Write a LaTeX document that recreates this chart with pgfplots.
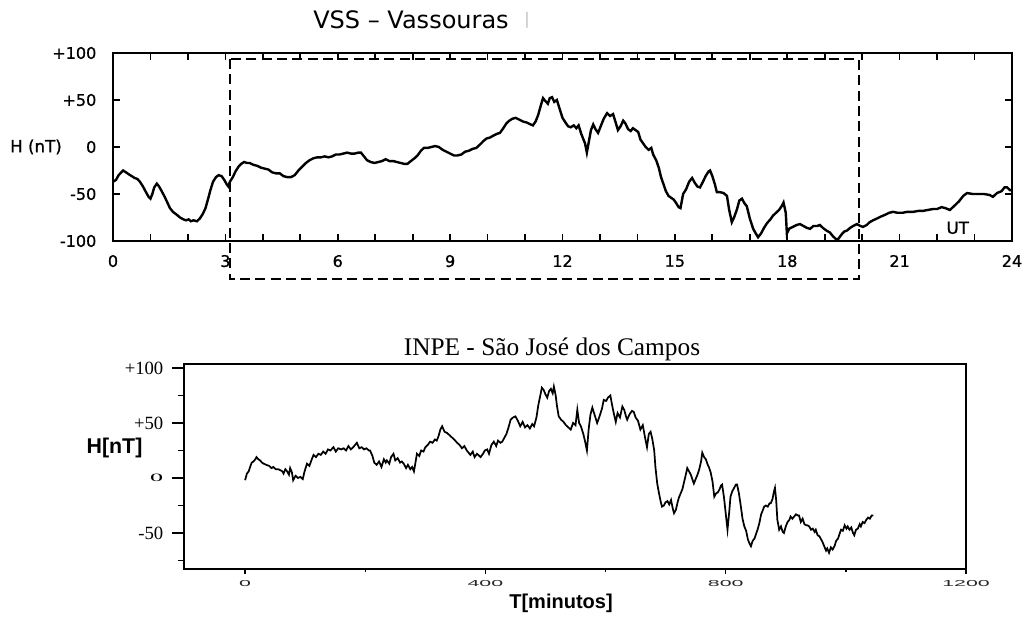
\documentclass[border=0pt]{standalone}
\usepackage{pgfplots}
\pgfplotsset{compat=1.18}
\usepackage{fontspec}
\usepackage{graphicx}
\newfontfamily\dv{DejaVu Sans}
\newfontfamily\dvb[FakeBold=1.0]{DejaVu Sans}
\newfontfamily\lsans{Liberation Sans}
\newfontfamily\lserif{Liberation Serif}
\begin{document}
\begin{tikzpicture}
\useasboundingbox (0,0) rectangle (768.75pt,462.75pt);
% ---------------- top axis ----------------
\begin{axis}[
  at={(84.75pt,282pt)}, anchor=south west,
  scale only axis, width=674.25pt, height=141pt,
  xmin=0, xmax=24, ymin=-100, ymax=100,
  clip=false,
  axis line style={line width=1.6pt},
  tick align=inside, tick pos=both,
  major tick length=5pt, minor tick length=5pt,
  every tick/.style={black, line width=1.3pt},
  xtick={0,3,6,9,12,15,18,21,24},
  xticklabels={0,3,6,9,12,15,18,21,24},
  minor xtick={1,2,4,5,7,8,10,11,13,14,16,17,19,20,22,23},
  ytick={-100,-50,0,50,100},
  yticklabels={-100,-50,0,+50,+100},
  ticklabel style={font=\dvb\fontsize{12}{14}\selectfont},
  xticklabel style={yshift=-7pt},
  yticklabel style={xshift=-9pt},
]
\addplot[black, line width=1.8pt] coordinates {
(0.00,-37) (0.08,-35) (0.15,-30) (0.22,-27) (0.27,-25) (0.35,-27) (0.42,-29) (0.50,-31)
(0.58,-33) (0.65,-34) (0.72,-37) (0.80,-42) (0.88,-48) (0.95,-53) (1.00,-55) (1.05,-50)
(1.10,-43) (1.17,-39) (1.23,-42) (1.30,-47) (1.38,-53) (1.45,-59) (1.52,-65) (1.60,-69)
(1.70,-72) (1.79,-75) (1.88,-77) (1.95,-78) (2.02,-77) (2.08,-79) (2.15,-78) (2.24,-79)
(2.32,-76) (2.40,-71) (2.47,-65) (2.54,-55) (2.60,-46) (2.67,-37) (2.75,-32) (2.82,-30)
(2.90,-31) (2.97,-35) (3.04,-40) (3.08,-42) (3.12,-37) (3.20,-32) (3.27,-26) (3.35,-21)
(3.42,-18) (3.50,-16) (3.58,-17) (3.65,-17) (3.75,-19) (3.85,-20) (3.95,-22) (4.05,-23)
(4.15,-24) (4.25,-27) (4.35,-28) (4.45,-28) (4.55,-31) (4.65,-32) (4.75,-32) (4.85,-30)
(4.95,-25) (5.05,-21) (5.15,-17) (5.25,-14) (5.35,-12) (5.45,-11) (5.55,-11) (5.65,-10)
(5.75,-11) (5.85,-10) (5.95,-8) (6.05,-8) (6.15,-7) (6.25,-6) (6.35,-7) (6.45,-7)
(6.55,-6) (6.62,-6) (6.70,-10) (6.78,-14) (6.88,-16) (6.98,-17) (7.08,-16) (7.18,-15)
(7.28,-13) (7.38,-15) (7.48,-15) (7.58,-16) (7.68,-17) (7.78,-18) (7.86,-18) (7.95,-15)
(8.05,-12) (8.13,-9) (8.22,-4) (8.30,-1) (8.40,-1) (8.50,0) (8.60,1) (8.70,0)
(8.80,-3) (8.90,-5) (9.00,-7) (9.10,-9) (9.20,-9) (9.30,-8) (9.40,-5) (9.50,-4)
(9.60,-2) (9.70,-1) (9.78,2) (9.88,6) (9.97,9) (10.06,10) (10.15,12) (10.25,14)
(10.33,15) (10.42,20) (10.50,25) (10.58,28) (10.66,30) (10.75,31) (10.85,29) (10.95,27)
(11.05,26) (11.15,24) (11.21,23) (11.28,27) (11.35,34) (11.42,44) (11.48,52) (11.54,49)
(11.61,46) (11.66,52) (11.72,53) (11.78,48) (11.85,50) (11.92,41) (12.00,31) (12.08,26)
(12.15,22) (12.22,21) (12.30,23) (12.37,20) (12.43,23) (12.50,14) (12.55,9) (12.60,4)
(12.65,-6) (12.70,5) (12.76,18) (12.82,24) (12.88,19) (12.95,15) (13.02,22) (13.10,30)
(13.19,36) (13.27,33) (13.35,35) (13.42,26) (13.48,18) (13.55,22) (13.62,28) (13.68,25)
(13.75,19) (13.82,17) (13.88,20) (13.95,18) (14.02,16) (14.08,8) (14.15,4) (14.22,0)
(14.30,-3) (14.37,-1) (14.42,-8) (14.50,-14) (14.57,-22) (14.63,-32) (14.70,-40) (14.76,-47)
(14.83,-52) (14.90,-54) (14.97,-56) (15.04,-60) (15.10,-64) (15.15,-65) (15.22,-50) (15.30,-45)
(15.38,-37) (15.46,-33) (15.53,-38) (15.60,-42) (15.67,-43) (15.75,-37) (15.82,-31) (15.90,-26)
(15.94,-25) (16.00,-31) (16.07,-40) (16.12,-48) (16.20,-48) (16.30,-49) (16.39,-52) (16.45,-67)
(16.52,-80) (16.58,-75) (16.66,-66) (16.72,-57) (16.79,-55) (16.86,-60) (16.92,-63) (17.00,-76)
(17.09,-87) (17.16,-92) (17.22,-96) (17.30,-92) (17.38,-86) (17.46,-81) (17.55,-77) (17.62,-73)
(17.70,-70) (17.78,-67) (17.85,-63) (17.90,-59) (17.96,-70) (17.99,-92) (18.05,-87) (18.15,-85)
(18.25,-83) (18.34,-82) (18.43,-84) (18.52,-86) (18.61,-87) (18.70,-84) (18.80,-84) (18.87,-83)
(18.95,-86) (19.05,-89) (19.14,-91) (19.22,-95) (19.30,-98) (19.36,-98) (19.45,-93) (19.52,-90)
(19.59,-89) (19.68,-86) (19.76,-84) (19.86,-82) (19.95,-84) (20.02,-85) (20.12,-83) (20.20,-80)
(20.29,-78) (20.40,-76) (20.50,-74) (20.62,-72) (20.72,-70) (20.82,-69) (20.95,-70) (21.08,-70)
(21.20,-69) (21.36,-69) (21.50,-68) (21.62,-68) (21.75,-67) (21.89,-66) (22.00,-66) (22.12,-64)
(22.22,-65) (22.34,-67) (22.45,-63) (22.58,-58) (22.70,-52) (22.80,-49) (22.95,-50) (23.10,-50)
(23.25,-50) (23.40,-51) (23.49,-53) (23.60,-49) (23.72,-47) (23.80,-43) (23.87,-43) (23.95,-46)
(24.00,-46)
};
\draw[black, line width=1.1pt, dash pattern=on 7.5pt off 4pt] (axis cs:3.12,93.6) rectangle (axis cs:19.91,-140.4);
\node[font=\dvb\fontsize{12.5}{14}\selectfont] at (axis cs:22.55,-86) {UT};
\end{axis}
\node[font=\dv\fontsize{18}{20}\selectfont] at (308.25pt,447.75pt) {VSS – Vassouras};
\node[font=\dv\fontsize{12}{14}\selectfont, text=black!25] at (395.25pt,447.75pt) {|};
\node[font=\dvb\fontsize{12.5}{14}\selectfont] at (27pt,352.5pt) {H (nT)};
% ---------------- bottom axis ----------------
\begin{axis}[
  at={(138pt,36pt)}, anchor=south west,
  scale only axis, width=586.5pt, height=153.75pt,
  xmin=-101.7, xmax=1200, ymin=-82.7, ymax=103.6,
  clip=false,
  axis line style={line width=1pt},
  tick align=outside, tick pos=left,
  every tick/.style={black, line width=1pt},
  xtick={0,400,800,1200},
  xticklabels={\scalebox{1.6}[0.65]{0},\scalebox{1.6}[0.65]{400},\scalebox{1.6}[0.65]{800},\scalebox{1.6}[0.65]{1200}},
  xtick style={draw=none},
  ytick={-50,0,50,100},
  yticklabels={-50,\scalebox{1.4}[0.6]{0},+50,+100},
  minor ytick={-75,-25,25,75},
  major tick length=9pt, minor tick length=4.5pt,
  xticklabel style={font=\lsans\fontsize{10}{12}\selectfont, text=black!85, yshift=4pt},
  yticklabel style={font=\lserif\fontsize{14}{16}\selectfont, xshift=-3pt},
]
\addplot[black, line width=1.3pt] coordinates {
(0,-2) (3,4) (6,6) (9,11) (11,14) (14,15) (17,17) (19,19) (22,17) (25,16) (28,14) (31,13)
(35,12) (40,11) (44,9) (47,10) (51,8) (55,8) (59,7) (62,6) (64,4) (67,8) (70,6) (73,3)
(75,9) (78,5) (80,-2) (84,2) (88,0) (92,1) (96,-1) (99,6) (103,13) (107,11) (111,17) (114,21)
(118,19) (122,22) (126,21) (130,24) (134,22) (138,26) (142,25) (147,28) (151,24) (155,27) (160,26) (164,27)
(168,25) (172,29) (176,26) (180,28) (183,30) (186,32) (190,27) (194,28) (198,26) (202,27) (206,25) (208,25)
(212,20) (215,14) (219,12) (223,15) (227,10) (231,17) (234,14) (236,16) (240,13) (243,19) (247,22) (250,16)
(254,18) (258,14) (261,15) (264,13) (268,9) (271,12) (275,8) (278,10) (281,6) (283,12) (286,22) (290,20)
(293,25) (297,24) (300,28) (304,30) (308,33) (312,32) (316,35) (319,34) (322,38) (325,44) (328,47) (332,42)
(336,41) (340,39) (344,37) (348,35) (353,32) (357,30) (361,27) (365,29) (369,25) (372,23) (375,21) (379,24)
(382,19) (386,22) (390,20) (392,19) (396,22) (399,25) (403,26) (406,22) (410,30) (414,33) (418,29) (421,34)
(425,32) (428,33) (431,36) (435,40) (438,45) (442,53) (446,55) (450,56) (454,52) (458,47) (462,51) (466,46)
(470,48) (474,45) (478,49) (481,47) (485,55) (488,66) (491,74) (494,82) (497,80) (500,76) (503,73) (506,79)
(509,81) (512,77) (514,83) (517,75) (519,66) (522,56) (526,53) (530,51) (534,48) (538,46) (542,44) (546,50)
(550,48) (553,62) (556,50) (559,47) (563,40) (566,33) (569,25) (572,45) (575,58) (578,64) (582,57) (586,50)
(590,56) (594,63) (597,71) (601,70) (604,73) (608,75) (611,66) (614,58) (617,51) (620,59) (624,55) (628,65)
(631,62) (634,56) (636,53) (640,58) (644,61) (647,60) (650,55) (654,52) (658,44) (662,48) (666,36) (669,28)
(672,40) (675,42) (678,35) (681,25) (683,10) (686,-5) (689,-14) (692,-22) (694,-26) (697,-25) (700,-22) (703,-21)
(706,-24) (709,-20) (712,-28) (714,-32) (717,-29) (720,-22) (722,-18) (725,-14) (728,-10) (731,-3) (734,4) (736,9)
(739,6) (742,3) (745,-2) (747,-5) (750,-1) (753,3) (756,8) (759,15) (761,23) (764,19) (767,17) (770,12)
(772,10) (775,5) (778,-3) (781,-17) (784,-14) (787,-13) (790,-10) (792,-7) (794,-6) (797,-17) (800,-32) (803,-47)
(806,-30) (808,-17) (811,-12) (814,-9) (817,-6) (819,-6) (822,-14) (825,-25) (828,-37) (831,-44) (834,-48) (837,-56)
(840,-60) (842,-62) (845,-57) (848,-55) (851,-50) (853,-47) (856,-41) (859,-33) (862,-29) (864,-26) (867,-25) (870,-26)
(873,-23) (875,-23) (878,-19) (880,-13) (882,-9) (884,-20) (886,-38) (889,-47) (892,-44) (895,-49) (897,-50) (900,-44)
(903,-40) (906,-38) (908,-35) (911,-37) (914,-35) (917,-33) (920,-34) (922,-34) (925,-40) (928,-37) (931,-42) (934,-43)
(936,-43) (939,-44) (942,-47) (945,-46) (948,-49) (950,-47) (953,-52) (956,-53) (958,-55) (961,-58) (964,-62) (967,-66)
(969,-64) (972,-68) (975,-63) (978,-65) (981,-62) (984,-57) (987,-55) (990,-50) (992,-47) (995,-48) (998,-43) (1001,-46)
(1003,-44) (1006,-47) (1009,-45) (1012,-50) (1014,-52) (1017,-47) (1020,-46) (1023,-42) (1025,-44) (1028,-40) (1031,-41) (1034,-38)
(1037,-36) (1040,-37) (1043,-34) (1046,-34)
};
\draw[black, line width=1pt] (axis cs:0,-82.7) -- ++(0pt,-4pt);
\draw[black, line width=1pt] (axis cs:400,-82.7) -- ++(0pt,-4pt);
\draw[black, line width=1pt] (axis cs:800,-82.7) -- ++(0pt,-4pt);
\draw[black, line width=1pt] (axis cs:1200,-82.7) -- ++(0pt,-4pt);
\draw[black, line width=1pt] (axis cs:200,-82.7) -- ++(0pt,-2pt);
\draw[black, line width=1pt] (axis cs:600,-82.7) -- ++(0pt,-2pt);
\draw[black, line width=1pt] (axis cs:1000,-82.7) -- ++(0pt,-2pt);
\end{axis}
\node[font=\lserif\fontsize{19}{21}\selectfont] at (414pt,201pt) {INPE - São José dos Campos};
\node[font=\lsans\bfseries\fontsize{16}{19}\selectfont] at (85.9pt,126.75pt) {H[nT]};
\node[font=\lsans\bfseries\fontsize{15}{19}\selectfont] at (420.75pt,10.5pt) {T[minutos]};
\end{tikzpicture}
\end{document}
